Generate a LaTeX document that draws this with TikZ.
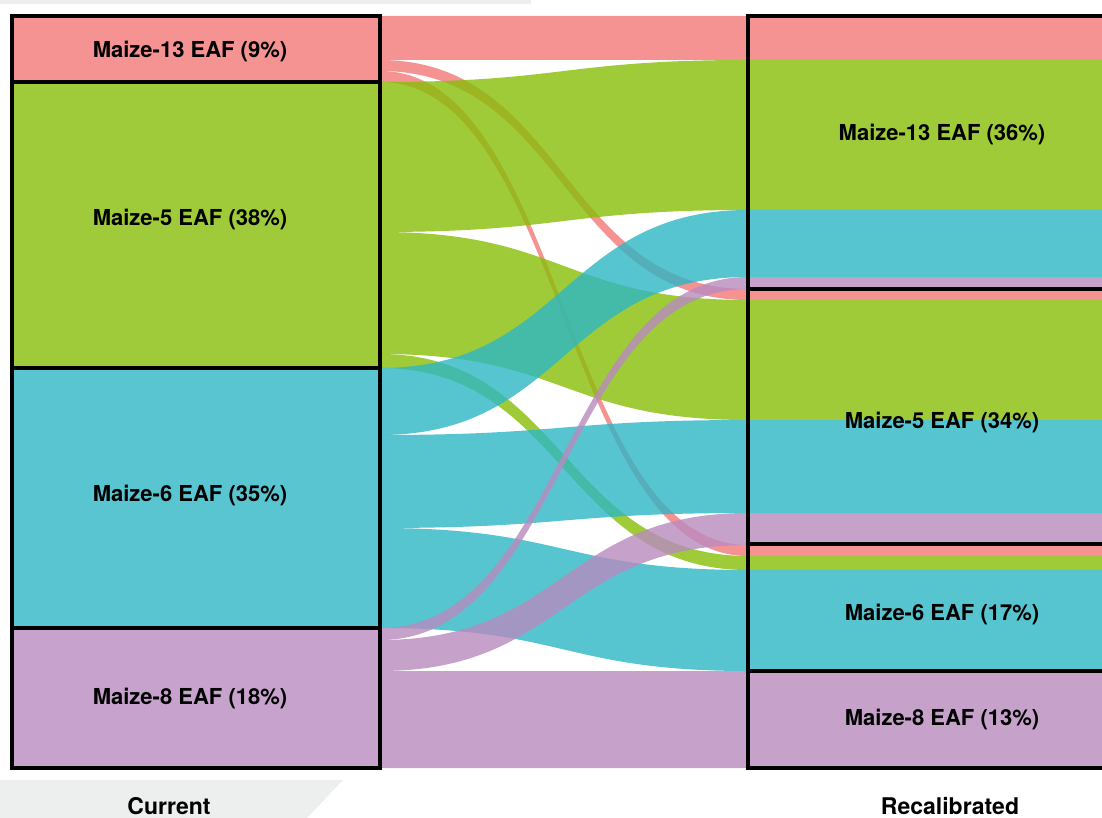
\documentclass[tikz,border=0pt]{standalone}
\usepackage{fontspec}
\setmainfont{TeX Gyre Heros}
\definecolor{pinkB}{RGB}{243,120,120}
\definecolor{greenB}{RGB}{135,190,8}
\definecolor{cyanB}{RGB}{46,183,196}
\definecolor{purpB}{RGB}{184,139,191}
\definecolor{pinkO}{RGB}{245,147,147}
\definecolor{greenO}{RGB}{159,203,58}
\definecolor{cyanO}{RGB}{88,197,208}
\definecolor{purpO}{RGB}{198,162,204}
\definecolor{greyC}{RGB}{237,239,239}
\newcommand{\sankeyflow}[5]{%
  \fill[#5, opacity=0.8] (380,#1) .. controls (564,#1) and (564,#3) .. (748,#3) -- (1120,#3) -- (1120,#4) -- (748,#4) .. controls (564,#4) and (564,#2) .. (380,#2) -- cycle;}
\tikzset{
  lbox/.style={draw=black, line width=3.5pt, rectangle, inner sep=0pt, minimum width=368pt},
  rbox/.style={draw=black, line width=3.5pt, rectangle, inner sep=0pt, minimum width=372pt},
  lab/.style={anchor=base, font=\fontsize{22}{26}\selectfont\bfseries, inner sep=0pt},
  axlab/.style={anchor=base, font=\fontsize{23}{27}\selectfont\bfseries, inner sep=0pt}
}
\begin{document}
\begin{tikzpicture}[x=1pt, y=-1pt]
\useasboundingbox (0,0) rectangle (1102,818);
\clip (0,0) rectangle (1102,818);
\fill[white] (0,0) rectangle (1102,818);
\fill[greyC] (0,0) rectangle (531,4);
\fill[greyC] (0,780) -- (343,780) -- (307,818) -- (0,818) -- cycle;
% flows: left top, left bottom, right top, right bottom
\sankeyflow{16}{60}{16}{60}{pinkB}
\sankeyflow{60}{71}{289}{300}{pinkB}
\sankeyflow{71}{82}{545}{556}{pinkB}
\sankeyflow{82}{232}{60}{210}{greenB}
\sankeyflow{232}{354}{300}{420}{greenB}
\sankeyflow{354}{368}{556}{570}{greenB}
\sankeyflow{368}{435}{210}{277}{cyanB}
\sankeyflow{435}{528}{420}{513}{cyanB}
\sankeyflow{528}{628}{570}{671}{cyanB}
\sankeyflow{628}{640}{277}{289}{purpB}
\sankeyflow{640}{671}{513}{545}{purpB}
\sankeyflow{671}{768}{671}{768}{purpB}
% left nodes
\node[lbox, fill=pinkO, minimum height=66pt] (c13) at (196,49) {};
\node[lbox, fill=greenO, minimum height=286pt] (c5) at (196,225) {};
\node[lbox, fill=cyanO, minimum height=260pt] (c6) at (196,498) {};
\node[lbox, fill=purpO, minimum height=140pt] (c8) at (196,698) {};
% right nodes
\node[rbox, minimum height=273pt] (r13) at (934,152.5) {};
\node[rbox, minimum height=255pt] (r5) at (934,416.5) {};
\node[rbox, minimum height=127pt] (r6) at (934,607.5) {};
\node[rbox, minimum height=97pt] (r8) at (934,719.5) {};
% labels
\node[lab] (t13) at (190,58) {Maize-13 EAF (9\%)};
\node[lab] (t5) at (190,226) {Maize-5 EAF (38\%)};
\node[lab] (t6) at (190,501) {Maize-6 EAF (35\%)};
\node[lab] (t8) at (190,704) {Maize-8 EAF (18\%)};
\node[lab] (s13) at (942,141) {Maize-13 EAF (36\%)};
\node[lab] (s5) at (942,428) {Maize-5 EAF (34\%)};
\node[lab] (s6) at (942,620) {Maize-6 EAF (17\%)};
\node[lab] (s8) at (942,725) {Maize-8 EAF (13\%)};
\node[axlab] (cur) at (169,814) {Current};
\node[axlab] (rec) at (950,814) {Recalibrated};
\end{tikzpicture}
\end{document}
